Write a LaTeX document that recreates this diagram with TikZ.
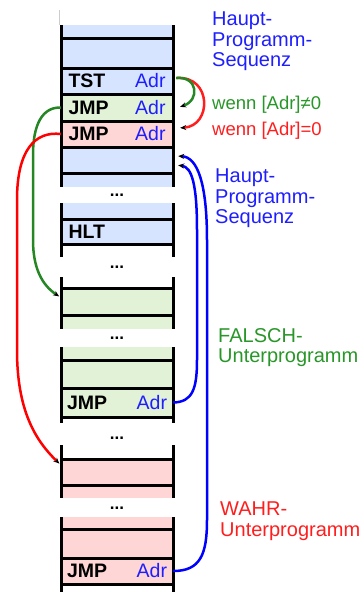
\documentclass[tikz,border=0pt]{standalone}
\usepackage{fontspec}
\setmainfont{Liberation Sans}
\usepackage{xcolor}
\usetikzlibrary{positioning,arrows.meta}
\definecolor{hpblue}{RGB}{30,30,255}
\definecolor{fgreen}{RGB}{40,150,40}
\definecolor{wred}{RGB}{255,30,30}
\definecolor{hpfill}{RGB}{214,228,255}
\definecolor{ffill}{RGB}{226,242,214}
\definecolor{wfill}{RGB}{255,214,214}

\begin{document}
\begin{tikzpicture}[x=1pt, y=-1pt,
        cell/.style={rectangle, inner sep=0pt, minimum width=112pt, minimum height=26pt,
                     text width=97pt, font=\fontsize{19.5}{20}\selectfont},
        dots/.style={inner sep=0pt, font=\bfseries\fontsize{17}{17}\selectfont},
        lbl/.style={inner sep=0pt, anchor=north west, align=left, font=\fontsize{20}{20.5}\selectfont},
        cond/.style={inner sep=0pt, anchor=base west, font=\fontsize{18.5}{19}\selectfont},
        rule/.style={line width=3pt, black},
        conn/.style={line width=2.5pt, -{Stealth[black, length=6pt, width=5pt]}, shorten >=2pt}
    ]
        \useasboundingbox (0,0) rectangle (364,592);

        % Fuellungen der Speicherzellen
        \fill[hpfill] (61,25) rectangle (173,94);
        \fill[ffill] (61,94) rectangle (173,121);
        \fill[wfill] (61,121) rectangle (173,147);
        \fill[hpfill] (61,147) rectangle (173,187);
        \fill[hpfill] (61,203) rectangle (173,244);
        \fill[ffill] (61,288) rectangle (173,329);
        \fill[ffill] (61,347) rectangle (173,417);
        \fill[wfill] (61,459) rectangle (173,498);
        \fill[wfill] (61,517) rectangle (173,584);

        % Speicherraster
        \draw[gray!40, line width=1pt] (59,10) -- (59,25);
        \foreach \y in {38,68,94,121,147,173,219,244,288,315,360,388,417,459,485,529,558,584}
            \draw[rule] (61,\y) -- (173,\y);
        \foreach \a/\b in {25/187,203/257,277/329,347/423,445/498,517/592} {
            \draw[rule] (61,\a) -- (61,\b);
            \draw[rule] (173,\a) -- (173,\b);
        }

        % Zellen
        \node[cell] (tst) at (117,81) {\textbf{TST}\hfill\textcolor{hpblue}{Adr}};
        \node[cell] (jmpf) at (117,107.5) {\textbf{JMP}\hfill\textcolor{hpblue}{Adr}};
        \node[cell] (jmpw) at (117,134) {\textbf{JMP}\hfill\textcolor{hpblue}{Adr}};
        \node[cell] (back) at (117,160) {};
        \node[cell] (hlt) at (117,231.5) {\textbf{HLT}};
        \node[cell] (falsch) at (117,301.5) {};
        \node[cell, text width=100pt] (jmpb1) at (117,402.5) {\textbf{JMP}\hfill\textcolor{hpblue}{Adr}};
        \node[cell] (wahr) at (117,472) {};
        \node[cell, text width=100pt] (jmpb2) at (117,571) {\textbf{JMP}\hfill\textcolor{hpblue}{Adr}};

        % Luecken
        \foreach \y [count=\i] in {195,267,338,438,508}
            \node[dots] (gap\i) at (117,\y) {...};

        % Beschriftungen
        \node[lbl, text=hpblue] (hp1) at (212,12) {Haupt-\\Programm-\\Sequenz};
        \node[cond, text=fgreen] (wf) at (212,109) {wenn [Adr]≠0};
        \node[cond, text=wred] (ww) at (212,135) {wenn [Adr]=0};
        \node[lbl, text=hpblue] (hp2) at (215,169) {Haupt-\\Programm-\\Sequenz};
        \node[lbl, text=fgreen] (fl) at (218,328) {FALSCH-\\Unterprogramm};
        \node[lbl, text=wred] (wl) at (220,502) {WAHR-\\Unterprogramm};

        % Spruenge
        \draw[conn, wred] ([xshift=4pt,yshift=3pt]tst.east) .. controls (212,76) and (212,126) .. ([xshift=5pt,yshift=6pt]jmpw.east);
        \draw[conn, fgreen!90!black] ([xshift=3pt,yshift=3pt]tst.east) .. controls (198,76) and (200,100) .. ([xshift=5pt]jmpf.east);
        \draw[conn, fgreen!90!black] (jmpf.west) .. controls (42,107) and (33,125) .. (33,155) -- (33,240) .. controls (33,268) and (42,285) .. ([yshift=4pt]falsch.west);
        \draw[conn, red] (jmpw.west) .. controls (35,131) and (17,150) .. (17,200) -- (17,350) .. controls (17,410) and (35,440) .. ([yshift=7pt]wahr.west);
        \draw[conn, blue] (jmpb1.east) .. controls (192,402) and (197,390) .. (197,360) -- (197,230) .. controls (197,185) and (192,167) .. ([xshift=3pt,yshift=-5pt]back.east);
        \draw[conn, blue] (jmpb2.east) .. controls (200,571) and (207,555) .. (207,520) -- (207,240) .. controls (207,185) and (198,157) .. ([xshift=3pt,yshift=4pt]back.east);
    \end{tikzpicture}
\end{document}
